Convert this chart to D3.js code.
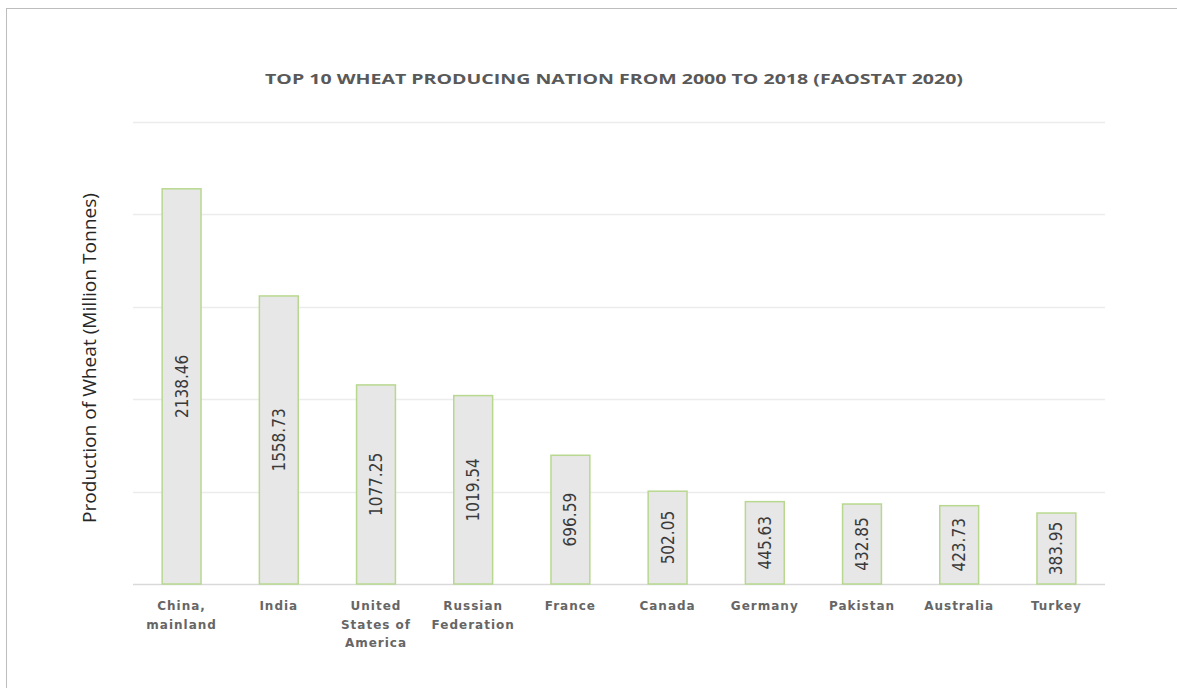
<!DOCTYPE html>
<html><head><meta charset="utf-8">
<script src="https://cdn.jsdelivr.net/npm/d3@7"></script>
<style>body{margin:0;background:#fff;}svg{display:block;}</style>
</head><body>
<svg id="chart" width="1177" height="688"></svg>
<script>
const categories = [["China,","mainland"],["India"],["United","States of","America"],["Russian","Federation"],["France"],["Canada"],["Germany"],["Pakistan"],["Australia"],["Turkey"]];
const values = [2138.46,1558.73,1077.25,1019.54,696.59,502.05,445.63,432.85,423.73,383.95];
const yTicks = [0,500,1000,1500,2000,2500];
const title = "TOP 10 WHEAT PRODUCING NATION FROM 2000 TO 2018 (FAOSTAT 2020)";
const yTitle = "Production of Wheat (Million Tonnes)";

const svg = d3.select("#chart");
const m = {left:133, right:1105, top:122, bottom:584};
const keys = categories.map((c,i)=>i);
const x = d3.scaleBand().domain(keys).range([m.left,m.right]).paddingInner(0.6).paddingOuter(0.3);
const y = d3.scaleLinear().domain([0,2500]).range([m.bottom,m.top]);

// frame
svg.append("line").attr("x1",6).attr("x2",1177).attr("y1",8.5).attr("y2",8.5).attr("stroke","#bdbdbd");
svg.append("line").attr("x1",6.5).attr("x2",6.5).attr("y1",8).attr("y2",688).attr("stroke","#bdbdbd");

// gridlines
svg.append("g").selectAll("line").data(yTicks).join("line")
  .attr("x1",m.left).attr("x2",m.right)
  .attr("y1",d=>Math.round(y(d))+0.5).attr("y2",d=>Math.round(y(d))+0.5)
  .attr("stroke",d=>d===0?"#d9d9d9":"#ececec").attr("stroke-width",1.5);

// bars
svg.append("g").selectAll("rect").data(values).join("rect")
  .attr("x",(d,i)=>x(i)).attr("width",x.bandwidth())
  .attr("y",d=>y(d)).attr("height",d=>y(0)-y(d))
  .attr("fill","#e7e7e7").attr("stroke","#b8d88f").attr("stroke-width",1.5);

// value labels
svg.append("g").selectAll("text").data(values).join("text")
  .attr("transform",(d,i)=>`translate(${x(i)+x.bandwidth()/2},${(y(d)+y(0))/2}) rotate(-90)`)
  .attr("text-anchor","middle").attr("dy","0.35em")
  .attr("font-family","'DejaVu Sans Condensed','DejaVu Sans',sans-serif")
  .attr("font-size",17).attr("fill","#3a3a3a")
  .text(d=>d.toFixed(2));

// x labels
const xl = svg.append("g").selectAll("text").data(categories).join("text")
  .attr("x",(d,i)=>x(i)+x.bandwidth()/2).attr("y",610)
  .attr("text-anchor","middle")
  .attr("font-family","'DejaVu Sans',Verdana,sans-serif").attr("font-weight","bold")
  .attr("font-size",12).attr("letter-spacing","1px").attr("fill","#666666");
xl.selectAll("tspan").data(d=>d).join("tspan")
  .attr("x",function(){return this.parentNode.getAttribute("x");})
  .attr("dy",(d,i)=>i===0?0:18.5).text(d=>d);

// title
svg.append("text").attr("x",614).attr("y",84).attr("text-anchor","middle")
  .attr("font-family","'Open Sans',sans-serif").attr("font-weight","bold")
  .attr("font-size",14).attr("fill","#595959")
  .attr("textLength",698).attr("lengthAdjust","spacingAndGlyphs")
  .text(title);

// y title
svg.append("text").attr("transform","translate(96,358) rotate(-90)")
  .attr("text-anchor","middle")
  .attr("font-family","'Open Sans',sans-serif").attr("font-size",19).attr("fill","#262626")
  .attr("textLength",330).attr("lengthAdjust","spacingAndGlyphs")
  .text(yTitle);
</script>
</body></html>
